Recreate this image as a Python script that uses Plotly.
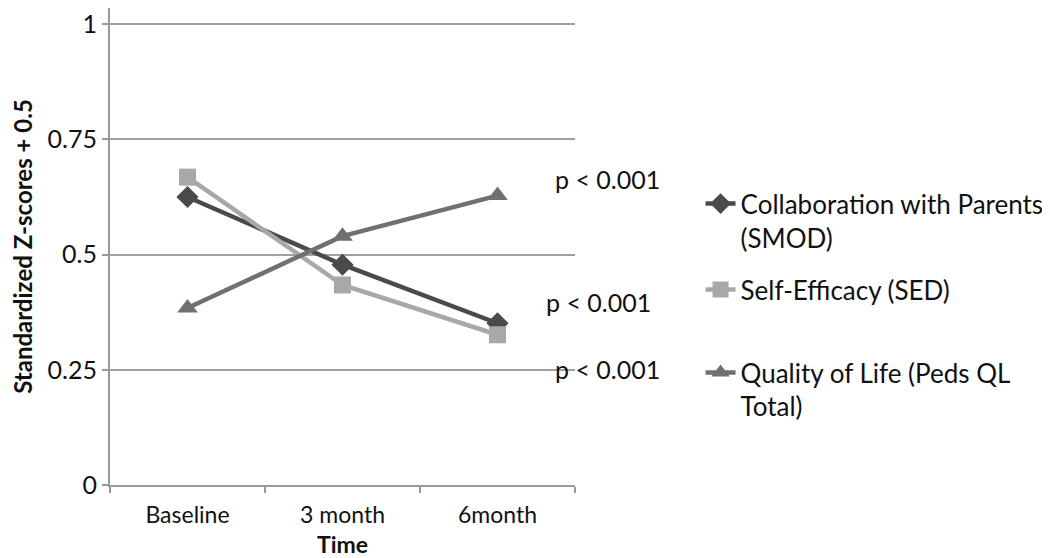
import plotly.graph_objects as go

categories = ["Baseline", "3 month", "6month"]
smod = [0.625, 0.478, 0.351]
sed = [0.668, 0.434, 0.326]
qol = [0.384, 0.540, 0.628]
names = ["Collaboration with Parents<br>(SMOD)", "Self-Efficacy (SED)", "Quality of Life (Peds QL<br>Total)"]
p_labels = ["p < 0.001", "p < 0.001", "p < 0.001"]

FONT = "Lato, 'Open Sans', sans-serif"
fig = go.Figure()
fig.add_trace(go.Scatter(x=categories, y=smod, name=names[0], mode="lines+markers",
                         line=dict(color="#4a4a4a", width=4.5), legend="legend",
                         marker=dict(symbol="diamond", size=17, color="#4a4a4a")))
fig.add_trace(go.Scatter(x=categories, y=sed, name=names[1], mode="lines+markers",
                         line=dict(color="#a8a8a8", width=4.5), legend="legend2",
                         marker=dict(symbol="square", size=17, color="#a8a8a8")))
fig.add_trace(go.Scatter(x=categories, y=qol, name=names[2], mode="lines+markers",
                         line=dict(color="#707070", width=4.5), legend="legend3",
                         marker=dict(symbol="triangle-up", size=18, color="#707070")))

fig.add_annotation(x=categories[2], y=qol[2], text=p_labels[0], showarrow=False, xshift=110, yshift=17,
                   font=dict(size=25, color="#111111", family=FONT))
fig.add_annotation(x=categories[2], y=smod[2], text=p_labels[1], showarrow=False, xshift=101, yshift=21,
                   font=dict(size=25, color="#111111", family=FONT))
fig.add_annotation(x=categories[2], y=sed[2], text=p_labels[2], showarrow=False, xshift=110, yshift=-34,
                   font=dict(size=25, color="#111111", family=FONT))

leg_common = dict(xanchor="left", yanchor="top", valign="top", x=1.27,
                  font=dict(size=26, family=FONT, color="#111111"), itemwidth=30,
                  bgcolor="rgba(0,0,0,0)")

fig.update_layout(
    width=1050, height=558,
    margin=dict(l=102, r=483, t=0, b=81, autoexpand=False),
    paper_bgcolor="white", plot_bgcolor="white",
    font=dict(family=FONT, size=23, color="#111111"),
    showlegend=True,
    legend=dict(y=0.639, **leg_common),
    legend2=dict(y=0.459, **leg_common),
    legend3=dict(y=0.285, **leg_common),
    xaxis=dict(type="category", showgrid=False, showline=True, linecolor="#9a9a9a", linewidth=2,
               ticks="outside", tickson="boundaries", ticklen=6, tickcolor="#9a9a9a", tickwidth=2,
               tickfont=dict(size=23), ticklabelstandoff=8,
               title=dict(text="<b>Time</b>", font=dict(size=23, family=FONT), standoff=10),
               range=[-0.5, 2.5], automargin=False),
    yaxis=dict(range=[0, 1.035], tickvals=[0, 0.25, 0.5, 0.75, 1], ticktext=["0", "0.25", "0.5", "0.75", "1"],
               showgrid=True, gridcolor="#a0a0a0", gridwidth=2, showline=True, linecolor="#9a9a9a",
               linewidth=2, ticks="outside", ticklen=6, tickcolor="#9a9a9a", tickwidth=2, zeroline=False,
               tickfont=dict(size=25), automargin=False, ticklabelstandoff=0, ticklabeloverflow="allow",
               title=dict(text="<b>Standardized Z-scores + 0.5</b>", font=dict(size=24, family=FONT), standoff=18)),
)

fig.write_html("out.html")
